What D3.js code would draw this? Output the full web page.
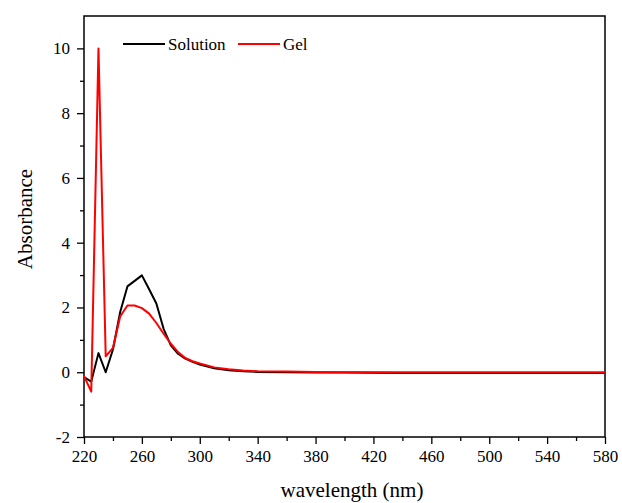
<!DOCTYPE html>
<html>
<head>
<meta charset="utf-8">
<script src="https://cdn.jsdelivr.net/npm/d3@7"></script>
<style>
  body { margin: 0; background: #fff; }
</style>
</head>
<body>
<svg id="chart" width="622" height="503"></svg>
<script>
// wavelength (nm) and absorbance
const wavelengths = [220, 225, 230, 235, 240, 245, 250, 255, 260, 265, 270, 275, 280, 285, 290, 295, 300, 310, 320, 330, 340, 360, 380, 400, 440, 480, 520, 560, 580];
const solution = [-0.15, -0.29, 0.59, 0.0, 0.7, 1.86, 2.65, 2.82, 2.99, 2.56, 2.12, 1.34, 0.83, 0.57, 0.42, 0.32, 0.24, 0.12, 0.06, 0.03, 0.01, 0.0, -0.01, -0.01, -0.02, -0.02, -0.02, -0.02, -0.02];
const gel = [-0.12, -0.6, 10.0, 0.49, 0.75, 1.72, 2.06, 2.06, 1.98, 1.81, 1.52, 1.19, 0.88, 0.62, 0.44, 0.34, 0.27, 0.15, 0.09, 0.05, 0.03, 0.02, 0.01, 0.0, 0.0, 0.0, 0.0, 0.0, 0.0];
const xTicks = [220, 260, 300, 340, 380, 420, 460, 500, 540, 580];
const yTicks = [-2, 0, 2, 4, 6, 8, 10];

const serif = "'Liberation Serif', 'Times New Roman', Tinos, 'DejaVu Serif', serif";
const margin = {left: 84, right: 17, top: 16, bottom: 66};
const width = 622 - margin.left - margin.right;
const height = 503 - margin.top - margin.bottom;

const svg = d3.select("#chart");
const g = svg.append("g")
  .attr("transform", "translate(" + margin.left + "," + margin.top + ")");

const x = d3.scaleLinear().domain([220, 580]).range([0, width]);
const y = d3.scaleLinear().domain([-2, 11]).range([height, 0]);

// minor ticks
g.append("g")
  .attr("transform", "translate(0," + height + ")")
  .call(d3.axisBottom(x).tickValues(d3.range(240, 580, 40)).tickSize(4).tickFormat(""))
  .call(a => a.select(".domain").remove())
  .selectAll("line").attr("stroke-width", 1.3);
g.append("g")
  .call(d3.axisLeft(y).tickValues(d3.range(-1, 11, 2)).tickSize(4).tickFormat(""))
  .call(a => a.select(".domain").remove())
  .selectAll("line").attr("stroke-width", 1.3);

// major ticks
const xAxis = g.append("g")
  .attr("transform", "translate(0," + height + ")")
  .call(d3.axisBottom(x).tickValues(xTicks).tickSize(7).tickPadding(6).tickFormat(d => String(d)));
xAxis.select(".domain").remove();
xAxis.selectAll("line").attr("stroke-width", 1.3);
xAxis.selectAll("text").style("font-family", serif).style("font-size", "17px");

const yAxis = g.append("g")
  .call(d3.axisLeft(y).tickValues(yTicks).tickSize(7).tickPadding(7).tickFormat(d => String(d)));
yAxis.select(".domain").remove();
yAxis.selectAll("line").attr("stroke-width", 1.3);
yAxis.selectAll("text").style("font-family", serif).style("font-size", "17px");

// frame
g.append("rect")
  .attr("width", width).attr("height", height)
  .attr("fill", "none").attr("stroke", "#000").attr("stroke-width", 1.5);

const line = d3.line()
  .x((d, i) => x(wavelengths[i]))
  .y(d => y(d));

g.append("path").datum(solution)
  .attr("d", line).attr("fill", "none")
  .attr("stroke", "#000").attr("stroke-width", 2).attr("stroke-linejoin", "round");
g.append("path").datum(gel)
  .attr("d", line).attr("fill", "none")
  .attr("stroke", "#ff0000").attr("stroke-width", 2).attr("stroke-linejoin", "round");

// legend
const legend = [
  {name: "Solution", color: "#000", x0: 39},
  {name: "Gel", color: "#ff0000", x0: 154}
];
legend.forEach(l => {
  g.append("line")
    .attr("x1", l.x0).attr("x2", l.x0 + 42)
    .attr("y1", 28).attr("y2", 28)
    .attr("stroke", l.color).attr("stroke-width", 2);
  g.append("text")
    .attr("x", l.x0 + 45).attr("y", 33.5)
    .style("font-family", serif).style("font-size", "17px")
    .text(l.name);
});

// axis titles
svg.append("text")
  .attr("x", 352).attr("y", 497)
  .attr("text-anchor", "middle")
  .style("font-family", serif).style("font-size", "21px")
  .text("wavelength (nm)");
svg.append("text")
  .attr("transform", "translate(32,219) rotate(-90)")
  .attr("text-anchor", "middle")
  .style("font-family", serif).style("font-size", "21px")
  .text("Absorbance");
</script>
</body>
</html>
